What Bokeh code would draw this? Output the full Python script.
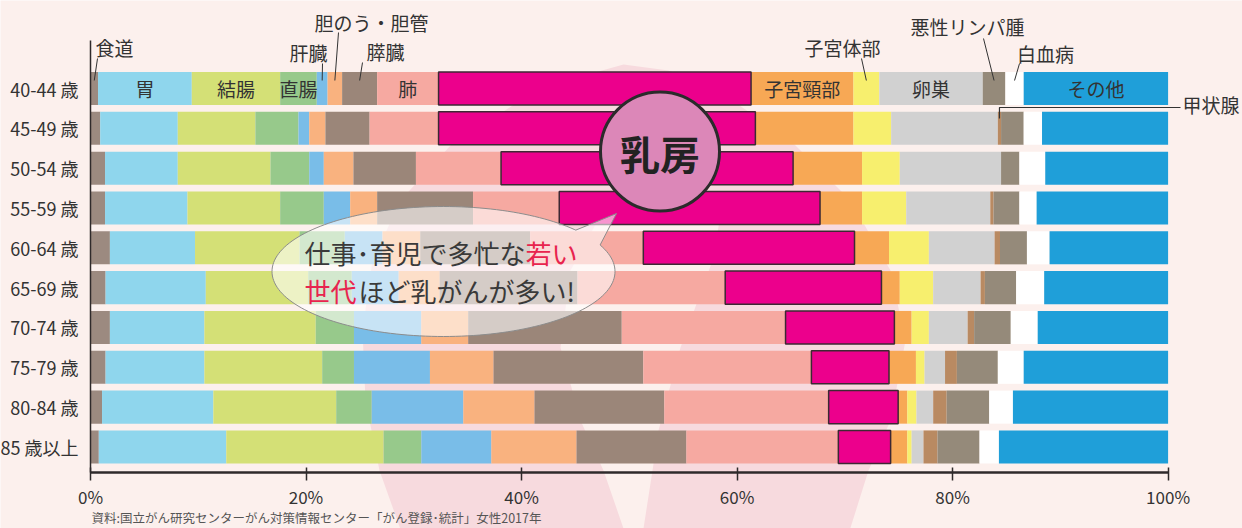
import numpy as np
from bokeh.plotting import figure
from bokeh.models import ColumnDataSource, Range1d, FixedTicker, LinearAxis, PrintfTickFormatter
from bokeh.core.properties import value
from bokeh.embed import file_html
from bokeh.resources import INLINE

# ---------------- data ----------------
age_groups = ["40-44 歳", "45-49 歳", "50-54 歳", "55-59 歳", "60-64 歳",
              "65-69 歳", "70-74 歳", "75-79 歳", "80-84 歳", "85 歳以上"]
sites = ["食道", "胃", "結腸", "直腸", "肝臓", "胆のう・胆管", "膵臓", "肺", "乳房",
         "子宮頸部", "子宮体部", "卵巣", "甲状腺", "悪性リンパ腫", "白血病", "その他"]

esophagus   = [0.7, 0.9, 1.35, 1.35, 1.8, 1.4, 1.8, 1.4, 1.07, 0.77]
stomach     = [8.7, 7.2, 6.75, 7.65, 7.9, 9.3, 8.77, 9.17, 10.33, 11.83]
colon       = [8.2, 7.2, 8.6, 8.6, 9.7, 9.5, 10.33, 10.93, 11.4, 14.6]
rectum      = [3.4, 4.0, 3.6, 4.05, 4.2, 4.05, 3.55, 2.95, 3.3, 3.5]
liver       = [1.0, 1.0, 1.35, 2.45, 3.5, 4.35, 6.25, 7.05, 8.5, 6.5]
gallbladder = [1.35, 1.5, 2.75, 2.5, 3.5, 3.8, 4.35, 5.9, 6.6, 7.9]
pancreas    = [3.25, 4.1, 5.8, 8.9, 10.2, 12.8, 14.25, 13.9, 12.05, 10.2]
lung        = [5.7, 6.4, 7.9, 8.0, 10.5, 13.7, 15.2, 15.6, 15.25, 14.1]
breast      = [29.0, 29.4, 27.1, 24.2, 19.6, 14.5, 10.1, 7.2, 6.45, 4.85]
cervix      = [9.5, 9.1, 6.4, 3.9, 3.2, 1.7, 1.6, 2.5, 0.85, 1.55]
corpus      = [2.4, 3.5, 3.5, 4.1, 3.7, 3.1, 1.6, 0.8, 0.85, 0.4]
ovary       = [9.6, 9.9, 9.4, 7.8, 6.1, 4.4, 3.6, 1.9, 1.55, 1.1]
thyroid     = [0.0, 0.3, 0.0, 0.3, 0.5, 0.4, 0.6, 1.1, 1.25, 1.3]
lymphoma    = [2.1, 2.1, 1.7, 2.4, 2.5, 2.9, 3.4, 3.8, 3.95, 3.9]
leukemia    = [1.7, 1.7, 2.4, 1.6, 2.1, 2.6, 2.5, 2.4, 2.2, 1.8]
other       = [13.4, 11.7, 11.4, 12.2, 11.0, 11.5, 12.1, 13.4, 14.4, 15.7]

x_ticks = [0, 20, 40, 60, 80, 100]

series = [esophagus, stomach, colon, rectum, liver, gallbladder, pancreas, lung, breast,
          cervix, corpus, ovary, thyroid, lymphoma, leukemia, other]

colors = ["#9c8a80", "#8fd6ed", "#d4e076", "#97c98b", "#79bde8", "#f9b27f", "#9b8679",
          "#f6a9a1", "#ec008c", "#f7a855", "#f7ef6e", "#d1d1d1", "#b98a62", "#958a7a",
          "#ffffff", "#1f9fd9"]

# ---------------- geometry helpers (pixel -> data) ----------------
W, H = 1242, 528
SX = 10.776          # px per percent
X0 = 90              # px of 0 %
SY = 39.83           # px per row
Y_TOP = 88 / SY      # row 0 centre at 88 px


def X(px):
    return (px - X0) / SX


def Y(py):
    return Y_TOP - py / SY


BG = "#fcf0ed"
FONT = "Noto Sans CJK JP"
TXT = "#333333"

p = figure(width=W, height=H, output_backend="svg", toolbar_location=None,
           x_range=Range1d(X(0), X(W)), y_range=Range1d(Y(H), Y(0)),
           x_axis_type=None, y_axis_type=None, min_border=0)
p.background_fill_color = BG
p.border_fill_color = BG
p.outline_line_color = None
p.grid.visible = False

# ---------------- decorative pink ribbon ----------------
outer = [(404, 540), (379, 470), (365, 400), (362, 330), (372, 260), (400, 200), (450, 145),
         (520, 100), (580, 76), (623, 64), (668, 70), (720, 92), (790, 140), (850, 200),
         (890, 270), (905, 340), (890, 420), (868, 470), (846, 540)]
inner = [(633, 545), (643, 528), (652, 470), (658, 430), (680, 347), (712, 260), (720, 215),
         (690, 185), (640, 185), (600, 215), (570, 270), (560, 347), (580, 420), (603, 470),
         (623, 528)]
p.multi_polygons(xs=[[[[X(a) for a, b in outer], [X(a) for a, b in inner]]]],
                 ys=[[[[Y(b) for a, b in outer], [Y(b) for a, b in inner]]]],
                 fill_color="#f7dade", line_color=None)

# ---------------- stacked bars ----------------
ys = [-i for i in range(len(age_groups))]
data = {"y": ys}
for name, vals in zip(sites, series):
    data[name] = vals
src = ColumnDataSource(data)
BAR_H = 0.83
rs = p.hbar_stack(sites, y="y", height=BAR_H, fill_color=colors, line_color=None, source=src)

cum = np.cumsum(np.array(series), axis=0)   # shape (sites, rows)
starts = cum - np.array(series)
bi = sites.index("乳房")
p.hbar(y=ys, left=list(starts[bi]), right=list(cum[bi]), height=BAR_H,
       fill_color=None, line_color="#3d2833", line_width=1.5)


def seg_center(site, row=0):
    k = sites.index(site)
    return (starts[k][row] + cum[k][row]) / 2


# labels inside the first bar
inside = ["胃", "結腸", "直腸", "肺", "子宮頸部", "卵巣", "その他"]
p.text(x=[seg_center(s) for s in inside], y=[ys[0]] * len(inside), text=inside,
       text_font=value(FONT), text_font_size="19px", text_color=TXT,
       text_align="center", text_baseline="middle")

# labels above with leader lines: (site, row, text x px, text y px, align, leader top px)
callouts = [
    ("食道", 0, 95, 47, "left", (97, 58)),
    ("肝臓", 0, 308, 52, "center", (322, 63)),
    ("胆のう・胆管", 0, 371, 22, "center", (338, 32)),
    ("膵臓", 0, 385, 51, "center", (362, 62)),
    ("子宮体部", 0, 842, 47, "center", (861, 58)),
    ("悪性リンパ腫", 0, 967, 26, "center", (983, 38)),
    ("白血病", 0, 1045, 53, "center", (1019, 63)),
]
for site, row, tx, ty, al, (lx, ly) in callouts:
    p.text(x=[X(tx)], y=[Y(ty)], text=[site], text_font=value(FONT), text_font_size="19px",
           text_color=TXT, text_align=al, text_baseline="middle")
    p.segment(x0=[X(lx)], y0=[Y(ly)], x1=[seg_center(site, row)], y1=[Y(80)],
              line_color=TXT, line_width=1)

# 甲状腺 (row 1) with elbow leader
tx_c = seg_center("甲状腺", 1)
p.line(x=[X(1180), tx_c, tx_c], y=[Y(107), Y(107), Y(118)], line_color=TXT, line_width=1.2)
p.text(x=[X(1182)], y=[Y(104)], text=["甲状腺"], text_font=value(FONT), text_font_size="19px",
       text_color=TXT, text_align="left", text_baseline="middle")

# ---------------- axes ----------------
xaxis = LinearAxis(fixed_location=Y(472), ticker=FixedTicker(ticks=x_ticks),
                   formatter=PrintfTickFormatter(format="%d%%"), bounds=(0, 100))
xaxis.axis_line_color = "#2f2a2b"
xaxis.axis_line_width = 2.5
xaxis.major_tick_line_color = "#2f2a2b"
xaxis.major_tick_line_width = 1.5
xaxis.major_tick_in = 5
xaxis.major_tick_out = 8
xaxis.minor_tick_line_color = None
xaxis.major_label_text_font = FONT
xaxis.major_label_text_font_size = "17px"
xaxis.major_label_text_color = TXT
xaxis.major_label_standoff = 3
p.add_layout(xaxis, "below")

yaxis = LinearAxis(fixed_location=0, ticker=FixedTicker(ticks=ys), bounds=(Y(472), Y(40)),
                   major_label_overrides={y: lab for y, lab in zip(ys, age_groups)})
yaxis.axis_line_color = "#2f2a2b"
yaxis.axis_line_width = 1.5
yaxis.major_tick_line_color = None
yaxis.minor_tick_line_color = None
yaxis.major_label_text_font = FONT
yaxis.major_label_text_font_size = "18px"
yaxis.major_label_text_color = TXT
yaxis.major_label_standoff = 6
p.add_layout(yaxis, "left")

# ---------------- speech bubble ----------------
cx, cy, a, b = 443, 271, 171.5, 65
t1, t2 = 0.42, 0.69
ts = np.linspace(0, 2 * np.pi, 181)
bx, by = [], []
inserted = False
for t in ts:
    if not inserted and t > t1:
        bx += [cx + a * np.cos(t1), 616, cx + a * np.cos(t2)]
        by += [cy - b * np.sin(t1), 213, cy - b * np.sin(t2)]
        inserted = True
    if t1 < t < t2:
        continue
    bx.append(cx + a * np.cos(t))
    by.append(cy - b * np.sin(t))
p.patch(x=[X(v) for v in bx], y=[Y(v) for v in by], fill_color="white", fill_alpha=0.58,
        line_color="#8c8c8c", line_width=1)

DARK, RED = "#3a3a3a", "#e8244e"
p.text(x=[X(304), X(525), X(304), X(358)], y=[Y(252), Y(252), Y(290), Y(290)],
       text=["仕事･育児で多忙な", "若い", "世代", "ほど乳がんが多い!"],
       text_color=[DARK, RED, RED, DARK], text_font=value(FONT), text_font_size="26px",
       text_align="left", text_baseline="middle")

# ---------------- 乳房 badge ----------------
p.scatter(x=[X(659.5)], y=[Y(151)], size=119, marker="circle", fill_color="#dc87b8",
          line_color="#2b2b2b", line_width=3)
p.text(x=[X(659.5)], y=[Y(152)], text=["乳房"], text_font=value(FONT), text_font_size="40px",
       text_font_style="bold", text_color="#222222", text_align="center", text_baseline="middle")

# ---------------- source ----------------
p.text(x=[X(91)], y=[Y(517)], text=["資料:国立がん研究センターがん対策情報センター「がん登録･統計」女性2017年"],
       text_font=value(FONT), text_font_size="12.5px", text_color="#555555",
       text_align="left", text_baseline="middle")

open("out.html", "w").write(file_html(p, INLINE))
